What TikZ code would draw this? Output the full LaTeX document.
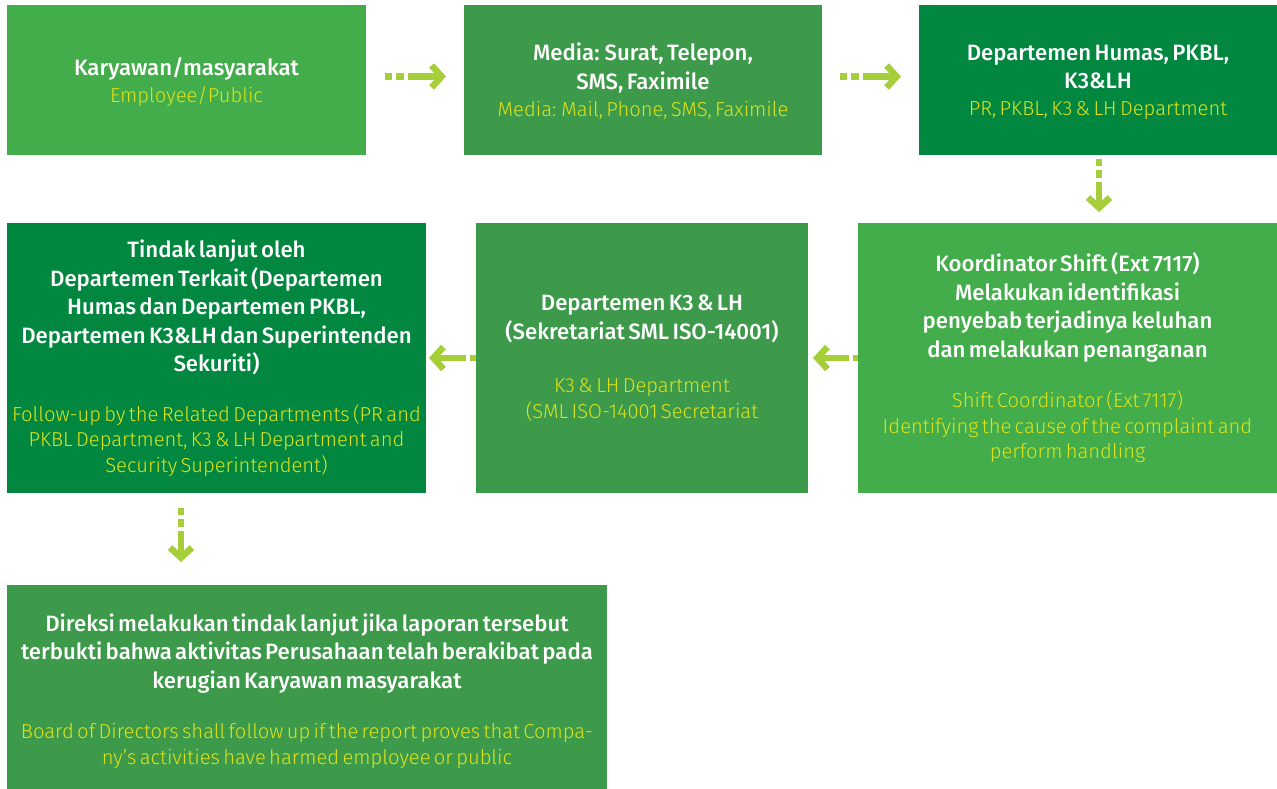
\documentclass[tikz,border=0pt]{standalone}
\usepackage{fontspec}
\setmainfont{Fira Sans}
\newfontfamily\titlefam{Fira Sans Medium}
\newfontfamily\subfam{Fira Sans Light}
\usetikzlibrary{arrows.meta,backgrounds,calc}
\definecolor{glight}{HTML}{42AD4A}
\definecolor{gmid}{HTML}{3C9A4A}
\definecolor{gdark}{HTML}{01873F}
\definecolor{suby}{HTML}{DDE31B}
\definecolor{arr}{HTML}{A6CE39}
\newcommand{\ttl}[1]{{\titlefam\fontsize{22.2}{28.5}\selectfont\color{white}#1\par}}
\newcommand{\sbt}[1]{{\subfam\fontsize{20.2}{25.5}\selectfont\color{suby}#1\par}}
\begin{document}
\begin{tikzpicture}[x=1pt,y=-1pt,
  box/.style={rectangle, draw=none, inner sep=0pt, outer sep=0pt, anchor=north west, align=center},
  flow/.style={draw=arr, line width=6.5pt,
    dash pattern=on 7pt off 4pt on 8pt off 4pt on 300pt off 0pt,
    -{Straight Barb[length=10pt,width=22pt]}}]
\useasboundingbox (0,0) rectangle (1277,789);
\node[box, fill=glight, minimum width=359pt, minimum height=150pt, text width=359pt] (n1) at (7,5)
  {\ttl{\rule{0pt}{22.5pt}Karyawan/masyarakat}\vspace{1.5pt}\sbt{Employee/Public}};
\node[box, fill=gmid, minimum width=358pt, minimum height=150pt, text width=358pt] (n2) at (464,5)
  {\ttl{\rule{0pt}{20.5pt}Media: Surat, Telepon,\\ SMS, Faximile}\vspace{1.5pt}\sbt{Media: Mail, Phone, SMS, Faximile}};
\node[box, fill=gdark, minimum width=358pt, minimum height=150pt, text width=358pt] (n3) at (919,5)
  {\ttl{\rule{0pt}{20.5pt}Departemen Humas, PKBL,\\ K3\&LH}\vspace{1.5pt}\sbt{PR, PKBL, K3 \& LH Department}};
\node[box, fill=glight, minimum width=419pt, minimum height=270pt, text width=419pt] (c) at (858,223)
  {\ttl{Koordinator Shift (Ext 7117)\\ Melakukan identifikasi\\ penyebab terjadinya keluhan\\ dan melakukan penanganan}\vspace{25pt}\sbt{Shift Coordinator (Ext 7117)\\ Identifying the cause of the complaint and\\ perform handling}};
\node[box, fill=gmid, minimum width=332pt, minimum height=270pt, text width=332pt] (b) at (476,223)
  {\ttl{Departemen K3 \& LH\\ (Sekretariat SML ISO-14001)}\vspace{28pt}\sbt{K3 \& LH Department\\ (SML ISO-14001 Secretariat}};
\node[box, fill=gdark, minimum width=419pt, minimum height=270pt, text width=419pt] (a) at (7,223)
  {\ttl{Tindak lanjut oleh\\ Departemen Terkait (Departemen\\ Humas dan Departemen PKBL,\\ Departemen K3\&LH dan Superintenden\\ Sekuriti)}\vspace{24pt}\sbt{Follow-up by the Related Departments (PR and\\ PKBL Department, K3 \& LH Department and\\ Security Superintendent)}};
\node[box, fill=gmid, minimum width=600pt, minimum height=212pt, text width=600pt] (d) at (7,585)
  {\ttl{Direksi melakukan tindak lanjut jika laporan tersebut\\ terbukti bahwa aktivitas Perusahaan telah berakibat pada\\ kerugian Karyawan masyarakat}\vspace{25pt}\sbt{Board of Directors shall follow up if the report proves that Compa-\\ ny’s activities have harmed employee or public}};
\coordinate (adown) at ($(a.south west)+(174,0)$);
\begin{pgfonlayer}{background}
\draw[flow, shorten <=19pt, shorten >=18pt] ([yshift=3.5pt]n1.east) -- ([yshift=3.5pt]n2.west);
\draw[flow, shorten <=18pt, shorten >=18pt] ([yshift=3.5pt]n2.east) -- ([yshift=3.5pt]n3.west);
\draw[flow, shorten <=4pt, shorten >=11pt] ([xshift=1pt]n3.south) -- ([xshift=1pt]n3.south |- c.north);
\draw[flow, shorten <=-14pt, shorten >=5pt] (c.west) -- (b.east);
\draw[flow, shorten <=-13pt, shorten >=3pt] (b.west) -- (a.east);
\draw[flow, shorten <=15pt, shorten >=23pt] (adown) -- (adown |- d.north);
\end{pgfonlayer}
\end{tikzpicture}
\end{document}
